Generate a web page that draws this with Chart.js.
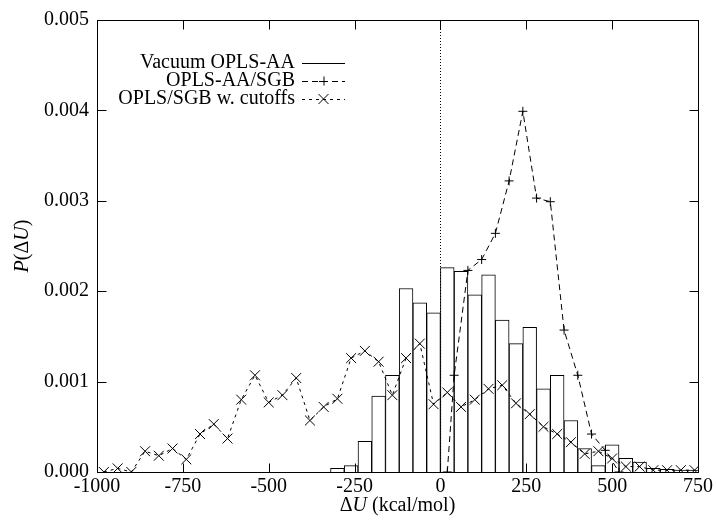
<!DOCTYPE html>
<html>
<head>
<meta charset="utf-8">
<script src="https://cdn.jsdelivr.net/npm/chart.js@4.4.1/dist/chart.umd.min.js"></script>
<style>
  html, body { margin: 0; padding: 0; background: #fff; }
  #wrap { width: 716px; height: 520px; position: relative; }
</style>
</head>
<body>
<div id="wrap"><canvas id="chart"></canvas></div>
<script>
// Histogram: Vacuum OPLS-AA (bin centres, 40 kcal/mol wide)
var vacuumX = [-300, -260, -220, -180, -140, -100, -60, -20, 20, 60, 100, 140, 180, 220,
               260, 300, 340, 380, 420, 460, 500, 540, 580, 620, 660, 700, 740];
var vacuumP = [0.00004, 0.00007, 0.00034, 0.00084, 0.00107, 0.00203, 0.00187, 0.00176,
               0.00226, 0.00222, 0.00196, 0.00218, 0.00168, 0.00142, 0.00160, 0.00092,
               0.00107, 0.00057, 0.00026, 0.00007, 0.00030, 0.00015, 0.00011, 0.00004,
               0.00003, 0.00002, 0.00002];

// OPLS-AA/SGB (+)
var sgbX = [20, 40, 80, 120, 160, 200, 240, 280, 320, 360, 400, 440, 480, 520];
var sgbP = [0, 0.00107, 0.00223, 0.00235, 0.00264, 0.00322, 0.00399, 0.00303, 0.00299,
            0.00157, 0.00107, 0.00042, 0.00024, 0];

// OPLS/SGB w. cutoffs (x)
var cutX = [-980, -940, -900, -860, -820, -780, -740, -700, -660, -620, -580, -540, -500,
            -460, -420, -380, -340, -300, -260, -220, -180, -140, -100, -60, -20, 20, 60,
            100, 140, 180, 220, 260, 300, 340, 380, 420, 460, 500, 540, 580, 620, 660, 700, 740];
var cutP = [0, 0.00004, 0, 0.00023, 0.00018, 0.00026, 0.00014, 0.00042, 0.00053, 0.00037,
            0.00080, 0.00107, 0.00077, 0.00085, 0.00104, 0.00057, 0.00072, 0.00081, 0.00126,
            0.00134, 0.00122, 0.00085, 0.00126, 0.00142, 0.00075, 0.00088, 0.00072, 0.00080,
            0.00092, 0.00096, 0.00076, 0.00064, 0.00050, 0.00042, 0.00033, 0.00020, 0.00023,
            0.00015, 0.00006, 0.00006, 0.00002, 0.00002, 0.00002, 0.00002];

var legendLabels = ['Vacuum OPLS-AA', 'OPLS-AA/SGB', 'OPLS/SGB w. cutoffs'];

function pairs(xs, ys) {
    return xs.map(function(x, i) { return { x: x, y: ys[i] }; });
}

var FONT = "'Liberation Serif', 'Times New Roman', serif";
var FS = 20;

// draws the frame, inward ticks, zero axis, axis titles and the legend
var gnuplotLook = {
    id: 'gnuplotLook',
    beforeDatasetsDraw: function(chart) {
        var ctx = chart.ctx, a = chart.chartArea;
        var px = Math.round(chart.scales.x.getPixelForValue(0)) + 0.5;
        ctx.save();
        ctx.strokeStyle = '#000';
        ctx.lineWidth = 1;
        ctx.setLineDash([1, 2]);
        ctx.beginPath();
        ctx.moveTo(px, a.top);
        ctx.lineTo(px, a.bottom);
        ctx.stroke();
        ctx.restore();
    },
    afterDraw: function(chart) {
        var ctx = chart.ctx, a = chart.chartArea;
        var xs = chart.scales.x, ys = chart.scales.y;
        var L = Math.round(a.left) + 0.5, R = Math.round(a.right) + 0.5;
        var T = Math.round(a.top) + 0.5, B = Math.round(a.bottom) + 0.5;
        ctx.save();
        ctx.strokeStyle = '#000';
        ctx.lineWidth = 1;
        ctx.strokeRect(L, T, R - L, B - T);
        var tl = 9;
        ctx.beginPath();
        xs.ticks.forEach(function(t) {
            var p = Math.round(xs.getPixelForValue(t.value)) + 0.5;
            ctx.moveTo(p, B); ctx.lineTo(p, B - tl);
            ctx.moveTo(p, T); ctx.lineTo(p, T + tl);
        });
        ys.ticks.forEach(function(t) {
            var p = Math.round(ys.getPixelForValue(t.value)) + 0.5;
            ctx.moveTo(L, p); ctx.lineTo(L + tl, p);
            ctx.moveTo(R, p); ctx.lineTo(R - tl, p);
        });
        ctx.stroke();

        // axis titles with italic symbols
        ctx.fillStyle = '#000';
        ctx.textBaseline = 'middle';
        function runs(parts, cx, cy) {
            var w = 0;
            parts.forEach(function(p) {
                ctx.font = (p[1] ? 'italic ' : '') + FS + 'px ' + FONT;
                p.w = ctx.measureText(p[0]).width;
                w += p.w;
            });
            var x = cx - w / 2;
            ctx.textAlign = 'left';
            parts.forEach(function(p) {
                ctx.font = (p[1] ? 'italic ' : '') + FS + 'px ' + FONT;
                ctx.fillText(p[0], x, cy);
                x += p.w;
            });
        }
        runs([['\u0394', false], ['U', true], [' (kcal/mol)', false]], (a.left + a.right) / 2, 506);
        ctx.save();
        ctx.translate(23, (a.top + a.bottom) / 2);
        ctx.rotate(-Math.PI / 2);
        runs([['P', true], ['(\u0394', false], ['U', true], [')', false]], 0, 0);
        ctx.restore();

        // legend: right aligned labels, samples to the right
        var rowsY = [63, 81, 99];
        var tx = 295, s0 = 302, s1 = 345, mid = (s0 + s1) / 2;
        ctx.font = FS + 'px ' + FONT;
        ctx.textAlign = 'right';
        legendLabels.forEach(function(lab, i) {
            ctx.fillText(lab, tx, rowsY[i]);
        });
        var y;
        ctx.beginPath();
        y = rowsY[0] + 0.5;
        ctx.moveTo(s0, y); ctx.lineTo(s1, y);
        ctx.stroke();
        ctx.setLineDash([6, 4]);
        y = rowsY[1] + 0.5;
        ctx.beginPath(); ctx.moveTo(s0, y); ctx.lineTo(s1, y); ctx.stroke();
        ctx.setLineDash([3, 4]);
        y = rowsY[2] + 0.5;
        ctx.beginPath(); ctx.moveTo(s0, y); ctx.lineTo(s1, y); ctx.stroke();
        ctx.setLineDash([]);
        ctx.beginPath();
        ctx.moveTo(mid - 4.5, rowsY[1] + 0.5); ctx.lineTo(mid + 4.5, rowsY[1] + 0.5);
        ctx.moveTo(mid + 0.5, rowsY[1] - 4.5); ctx.lineTo(mid + 0.5, rowsY[1] + 4.5);
        ctx.moveTo(mid - 5, rowsY[2] - 5); ctx.lineTo(mid + 5, rowsY[2] + 5);
        ctx.moveTo(mid - 5, rowsY[2] + 5); ctx.lineTo(mid + 5, rowsY[2] - 5);
        ctx.stroke();
        ctx.restore();
    }
};

new Chart(document.getElementById('chart').getContext('2d'), {
    type: 'bar',
    data: {
        datasets: [
            {
                type: 'line',
                label: legendLabels[2],
                data: pairs(cutX, cutP),
                borderColor: '#000',
                borderWidth: 1,
                borderDash: [3, 4],
                pointStyle: 'crossRot',
                pointRadius: 7,
                pointBorderColor: '#000',
                pointBorderWidth: 1,
                fill: false,
                tension: 0,
                order: 1
            },
            {
                type: 'line',
                label: legendLabels[1],
                data: pairs(sgbX, sgbP),
                borderColor: '#000',
                borderWidth: 1,
                borderDash: [6, 4],
                pointStyle: 'cross',
                pointRadius: 4.5,
                pointBorderColor: '#000',
                pointBorderWidth: 1,
                fill: false,
                tension: 0,
                order: 2
            },
            {
                type: 'bar',
                label: legendLabels[0],
                data: pairs(vacuumX, vacuumP),
                backgroundColor: '#fff',
                borderColor: '#000',
                borderWidth: 1,
                barPercentage: 1,
                categoryPercentage: 1,
                order: 3
            }
        ]
    },
    options: {
        responsive: true,
        maintainAspectRatio: false,
        animation: false,
        layout: { padding: { top: 18, right: 16, left: 0, bottom: 0 } },
        plugins: {
            legend: { display: false },
            tooltip: { enabled: false }
        },
        scales: {
            x: {
                type: 'linear',
                min: -1000,
                max: 750,
                offset: false,
                grid: { display: false, drawTicks: false },
                border: { display: false },
                ticks: {
                    stepSize: 250,
                    padding: 3,
                    color: '#000',
                    maxRotation: 0,
                    autoSkip: false,
                    font: { family: FONT, size: FS },
                    callback: function(v) { return String(v); }
                },
                afterFit: function(s) { s.height = 48; }
            },
            y: {
                min: 0,
                max: 0.005,
                grid: { display: false, drawTicks: false },
                border: { display: false },
                ticks: {
                    stepSize: 0.001,
                    padding: 8,
                    color: '#000',
                    font: { family: FONT, size: FS },
                    callback: function(v) { return v.toFixed(3); }
                },
                afterFit: function(s) { s.width = 97; }
            }
        }
    },
    plugins: [gnuplotLook]
});
</script>
</body>
</html>
